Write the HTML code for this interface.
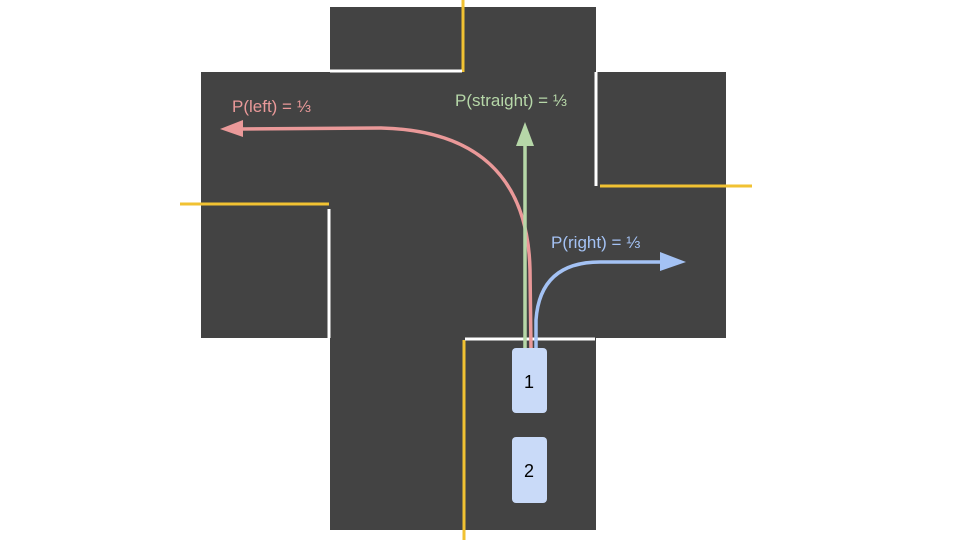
<!DOCTYPE html>
<html><head><meta charset="utf-8"><style>
body{margin:0;width:960px;height:540px;background:#fff;overflow:hidden;font-family:"Liberation Sans",sans-serif}
</style></head><body>
<svg width="960" height="540">
<g fill="#434343">
<rect x="330" y="7" width="266" height="523"/>
<rect x="201" y="72" width="525" height="266"/>
</g>
<g stroke="#f1c232" stroke-width="3">
<line x1="463" y1="0" x2="463" y2="72"/>
<line x1="600" y1="186" x2="752" y2="186"/>
<line x1="180" y1="204" x2="329" y2="204"/>
<line x1="464" y1="340" x2="464" y2="540"/>
</g>
<g stroke="#fff" stroke-width="3">
<line x1="330" y1="71" x2="462" y2="71"/>
<line x1="596" y1="72" x2="596" y2="186"/>
<line x1="329" y1="209" x2="329" y2="338"/>
<line x1="465" y1="339" x2="595" y2="339"/>
</g>
<g fill="none" stroke-width="3.5">
<path d="M531 350 L530 270 C528 180 480 130 380 128 L240 129" stroke="#ea9999"/>
<path d="M525 350 L525 145" stroke="#b6d7a8"/>
<path d="M536 350 L536 320 Q540 262 600 262 L662 262" stroke="#a4c2f4"/>
</g>
<polygon points="220,129 243,120 243,137" fill="#ea9999"/>
<polygon points="525,122 516,146 534,146" fill="#b6d7a8"/>
<polygon points="686,262 660,252 660,271" fill="#a4c2f4"/>
<g font-size="17">
<text x="232" y="112" fill="#ea9999">P(left) = ⅓</text>
<text x="455" y="106" fill="#b6d7a8">P(straight) = ⅓</text>
<text x="551" y="248" fill="#a4c2f4">P(right) = ⅓</text>
</g>
<rect x="512" y="348" width="35" height="65" rx="4" fill="#c9daf8"/>
<text x="529" y="388" font-size="18" text-anchor="middle" fill="#000">1</text>
<rect x="512" y="437" width="35" height="66" rx="4" fill="#c9daf8"/>
<text x="529" y="477" font-size="18" text-anchor="middle" fill="#000">2</text>
</svg>
</body></html>
